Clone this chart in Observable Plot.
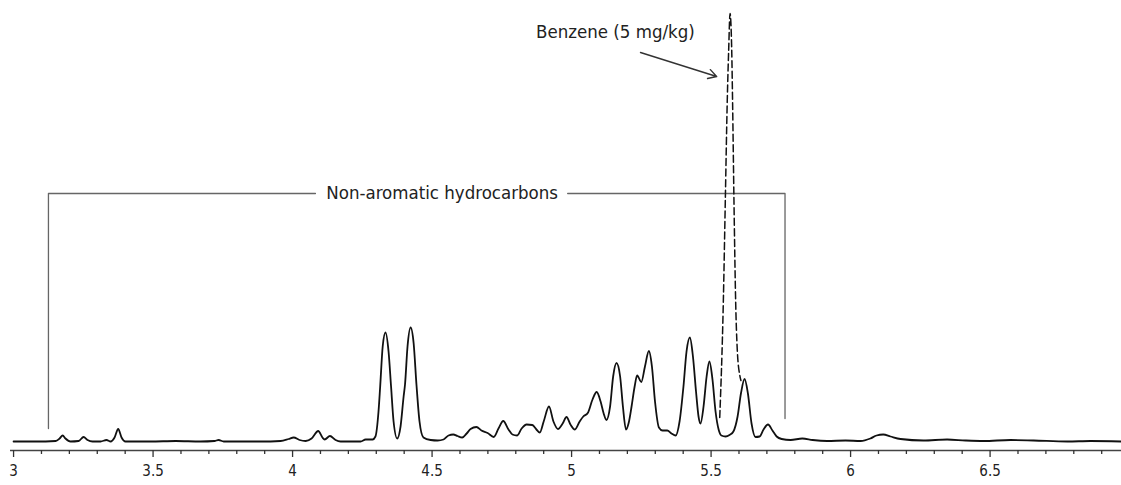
<!DOCTYPE html>
<html><head><meta charset="utf-8">
<script src="https://cdn.jsdelivr.net/npm/d3@7"></script>
<script src="https://cdn.jsdelivr.net/npm/@observablehq/plot@0.6"></script>
<style>body{margin:0;background:#fff} svg{display:block}</style>
</head><body><div id="chart"></div>
<script>
// Retention time (min) and detector signal (arbitrary units)
const traceTime = [3.000,3.079,3.151,3.165,3.176,3.186,3.204,3.233,3.251,3.265,3.283,3.312,3.333,3.348,3.362,3.375,3.387,3.401,3.491,3.581,3.670,3.720,3.735,3.753,3.885,3.957,3.986,4.004,4.025,4.047,4.068,4.092,4.107,4.115,4.134,4.154,4.172,4.244,4.262,4.287,4.297,4.308,4.314,4.323,4.333,4.344,4.353,4.362,4.375,4.387,4.398,4.403,4.412,4.423,4.434,4.444,4.455,4.469,4.495,4.520,4.541,4.559,4.576,4.591,4.608,4.624,4.638,4.659,4.677,4.699,4.721,4.738,4.755,4.774,4.788,4.805,4.821,4.839,4.859,4.874,4.886,4.900,4.919,4.935,4.951,4.968,4.982,4.996,5.012,5.029,5.042,5.058,5.075,5.090,5.104,5.115,5.125,5.138,5.149,5.161,5.174,5.184,5.195,5.205,5.215,5.226,5.235,5.250,5.263,5.277,5.288,5.299,5.313,5.326,5.343,5.358,5.373,5.387,5.401,5.412,5.424,5.435,5.446,5.455,5.462,5.473,5.484,5.494,5.505,5.516,5.527,5.537,5.552,5.566,5.580,5.595,5.607,5.620,5.632,5.645,5.659,5.674,5.688,5.704,5.720,5.735,5.753,5.785,5.827,5.864,5.916,5.982,6.036,6.071,6.093,6.117,6.143,6.179,6.261,6.346,6.412,6.477,6.573,6.656,6.777,6.860,6.971];
const traceSignal = [0,0,0.5,3,6,3,0,0.5,4.5,1.5,0,0,1.5,0,4,12.5,4,0,0,0.5,0,0.5,1.5,0,0,0.5,2.5,4,1.5,0.5,3,10.5,4,2,5.5,1.5,0,0,2,2,5,30,55,95,109,90,55,20,3,15,45,57,95,114,98,57,20,4,1.5,1,2,6,7,5.5,4,8,12.5,14.5,11,8.5,4.5,13,20.5,12,7,6,13,17,16.5,12,9,20,35,20,12.5,18,24.5,17,12,20,25,28.5,42,49.5,40,28,21.5,35,65,78.5,65,35,12,19,35,55,66,59.5,75,90.5,75,40,14,11,11,8,6,20,55,90,104,85,50,25,18,35,65,80,62,30,12,6,5,6.5,10,25,48,62.5,48,18,4.5,5,12,17,11,5,2.5,1.5,3,1.5,0.5,1,0.5,3,6,7,5,2.5,1,2,1,0.5,1.5,1,0,0.5,0];
// Benzene (spiked, 5 mg/kg) trace, dashed
const benzeneTime = [5.531,5.544,5.551,5.558,5.563,5.568,5.574,5.577,5.582,5.588,5.594,5.603,5.607];
const benzeneSignal = [24,141,241,341,391,428,391,341,241,141,91,66,61];
// Axis ticks
const majorTicks = [3,3.5,4,4.5,5,5.5,6,6.5];
const tickLabels = ["3","3.5","4","4.5","5","5.5","6","6.5"];
const minorTicks = [3.1,3.2,3.3,3.4,3.6,3.7,3.8,3.9,4.1,4.2,4.3,4.4,4.6,4.7,4.8,4.9,5.1,5.2,5.3,5.4,5.6,5.7,5.8,5.9,6.1,6.2,6.3,6.4,6.6,6.7,6.8,6.9];
// Annotations
const bracketTime = [3.125, 5.765];
const bracketLevel = 248;
const bracketFeet = [13, 23];
const bracketGap = [4.082, 4.986];
const bracketLabel = "Non-aromatic hydrocarbons";
const bracketLabelTime = 4.536;
const benzeneLabel = "Benzene (5 mg/kg)";
const benzeneLabelPos = [5.157, 409];
const arrowFrom = [5.247, 389];
const arrowTo = [5.520, 365];

const trace = traceTime.map((t, i) => ({t, v: traceSignal[i]}));
const benzene = benzeneTime.map((t, i) => ({t, v: benzeneSignal[i]}));
const bracket = [
  {g: "L", t: bracketTime[0], v: bracketFeet[0]},
  {g: "L", t: bracketTime[0], v: bracketLevel},
  {g: "L", t: bracketGap[0], v: bracketLevel},
  {g: "R", t: bracketGap[1], v: bracketLevel},
  {g: "R", t: bracketTime[1], v: bracketLevel},
  {g: "R", t: bracketTime[1], v: bracketFeet[1]}
];

const font = "'Liberation Sans Narrow','DejaVu Sans Condensed','Liberation Sans',sans-serif";

const chart = Plot.plot({
  width: 1121,
  height: 485,
  marginLeft: 10,
  marginRight: 0,
  marginTop: 10,
  marginBottom: 35,
  style: {fontFamily: font, background: "#fff"},
  x: {domain: [2.989, 6.971], label: null},
  y: {domain: [-9, 431], axis: null, label: null},
  marks: [
    Plot.ruleY([-9], {stroke: "#444", strokeWidth: 1.5}),
    Plot.axisX({ticks: minorTicks, tickSize: 4, tickFormat: () => "", label: null, stroke: "#333", strokeWidth: 1.3}),
    Plot.axisX({ticks: majorTicks, tickSize: 7, tickPadding: 8, label: null, tickFormat: (d, i) => tickLabels[i], fontSize: 15, fill: "#222", stroke: "#333", strokeWidth: 1.3}),
    Plot.line(bracket, {x: "t", y: "v", z: "g", stroke: "#666", strokeWidth: 1.3}),
    Plot.text([bracketLabel], {x: bracketLabelTime, y: bracketLevel, text: d => d, fontSize: 18.5, fill: "#222"}),
    Plot.line(benzene, {x: "t", y: "v", curve: "monotone-x", stroke: "#111", strokeWidth: 1.5, strokeDasharray: "7,3.5"}),
    Plot.line(trace, {x: "t", y: "v", curve: "monotone-x", stroke: "#111", strokeWidth: 1.8}),
    Plot.arrow([0], {x1: arrowFrom[0], y1: arrowFrom[1], x2: arrowTo[0], y2: arrowTo[1], stroke: "#333", strokeWidth: 1.4, headLength: 10}),
    Plot.text([benzeneLabel], {x: benzeneLabelPos[0], y: benzeneLabelPos[1], text: d => d, fontSize: 18.5, fill: "#222"})
  ]
});
document.getElementById("chart").appendChild(chart);
</script>
</body></html>
